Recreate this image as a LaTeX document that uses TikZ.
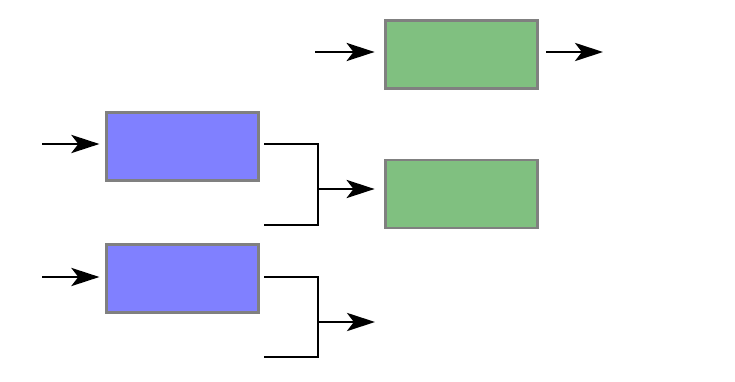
\documentclass[tikz,border=0pt]{standalone}
\usetikzlibrary{positioning,arrows.meta,calc}
\definecolor{boxGreen}{RGB}{128,192,128}
\definecolor{boxBlue}{RGB}{128,128,255}
\definecolor{edgeGray}{RGB}{128,128,128}
\tikzset{
	block/.style={
		draw=edgeGray,
		line width=1.5pt,
		minimum width=3.8cm,
		minimum height=1.7cm,
		inner sep=0pt,
	},
	flow/.style={
		-{Stealth[length=20pt,width=13pt,inset=5pt]},
		line width=1.3pt,
	},
	wire/.style={
		line width=1.3pt,
	}
}
\begin{document}
\begin{tikzpicture}[x=0.025cm,y=-0.025cm]
			\useasboundingbox (0,0) rectangle (735,381);
			% --- Boxes ---
			\node[block, fill=boxGreen] (out) at (461.5,54.5) {};
			\node[block, fill=boxBlue] (upper) at (182.5,146.5) {};
			\node[block, fill=boxGreen] (merge) [below=1.725cm of out] {};
			\node[block, fill=boxBlue] (lower) at (182.5,278.5) {};
			
			% --- Free ends ---
			\coordinate (outIn) at (315,52);
			\coordinate (outEnd) at (603,52);
			\coordinate (upperIn) at (42,144);
			\coordinate (lowerIn) at (42,277);
			\coordinate (upperTop) at (264,144);
			\coordinate (upperBot) at (264,225);
			\coordinate (upperJoin) at (318,189);
			\coordinate (lowerTop) at (264,277);
			\coordinate (lowerBot) at (264,357);
			\coordinate (lowerJoin) at (318,322);
			\coordinate (lowerEnd) at (375,322);
			
			% --- Flows ---
			\draw[flow, shorten >=7pt] (outIn) -- (outIn -| out.west);
			\draw[flow, shorten <=5.5pt] (out.east |- outEnd) -- (outEnd);
			\draw[flow, shorten >=4.3pt] (upperIn) -- (upperIn -| upper.west);
			\draw[flow, shorten >=4.3pt] (lowerIn) -- (lowerIn -| lower.west);
			
			% brackets
			\draw[wire] (upperTop) -| (upperJoin) |- (upperBot);
			\draw[flow, shorten >=7pt] (upperJoin) -- (upperJoin -| merge.west);
			\draw[wire] (lowerTop) -| (lowerJoin) |- (lowerBot);
			\draw[flow] (lowerJoin) -- (lowerEnd);
\end{tikzpicture}
\end{document}
